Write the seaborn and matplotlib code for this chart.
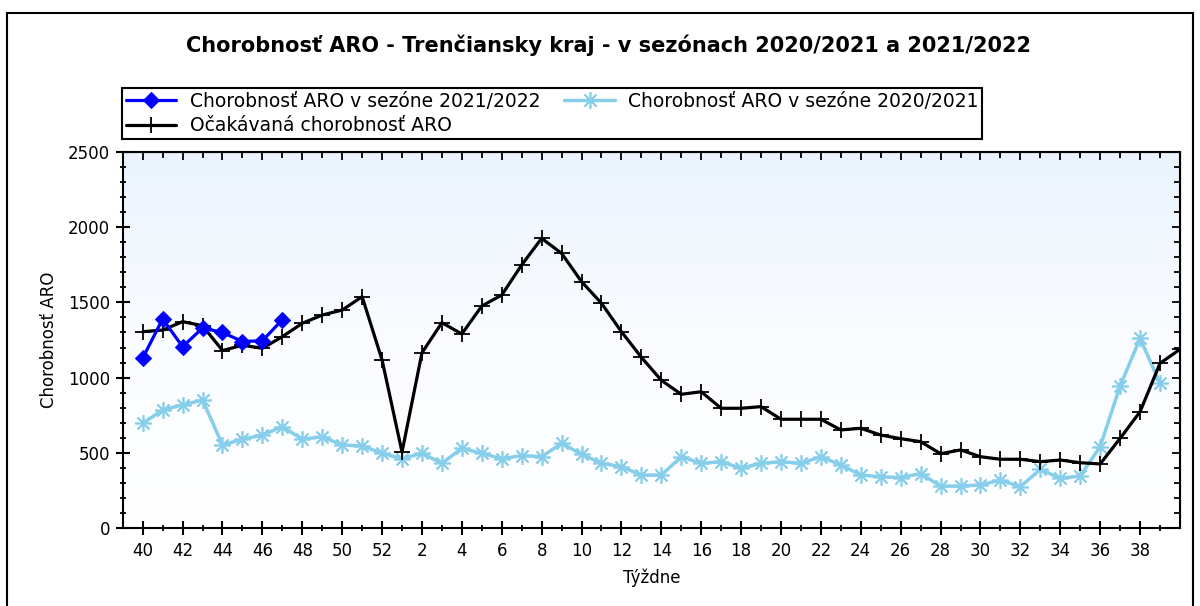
import numpy as np
import matplotlib
matplotlib.use("Agg")
import matplotlib.pyplot as plt
import seaborn as sns
from matplotlib.colors import LinearSegmentedColormap
from matplotlib.ticker import FixedLocator, MultipleLocator
from matplotlib.patches import Rectangle

# ---------------- data ----------------
weeks = list(range(40, 53)) + list(range(1, 40))

season_2122 = [1130, 1390, 1205, 1330, 1300, 1240, 1245, 1385]

season_2021 = [696, 785, 818, 851, 552, 590, 618, 674, 590, 607,
               552, 545, 497, 460, 497, 430, 530, 497, 460, 482,
               474, 563, 490, 430, 408, 352, 352, 474, 430, 441,
               397, 430, 441, 430, 474, 419, 352, 341, 335, 362,
               279, 279, 286, 319, 275, 390, 330, 346, 541, 944,
               1261, 962]

# last value lies on the right edge of the plot (start of the next season)
expected = [1305, 1316, 1372, 1345, 1180, 1215, 1195, 1272, 1361, 1416,
            1449, 1538, 1117, 505, 1165, 1365, 1290, 1476, 1549, 1749,
            1926, 1826, 1638, 1494, 1305, 1135, 982, 889, 906, 796,
            796, 807, 723, 723, 723, 652, 663, 618, 594, 574,
            494, 519, 474, 457, 457, 441, 452, 434, 426, 596,
            773, 1095, 1188]

label_2122 = "Chorobnosť ARO v sezóne 2021/2022"
label_2021 = "Chorobnosť ARO v sezóne 2020/2021"
label_exp = "Očakávaná chorobnosť ARO"
title = "Chorobnosť ARO - Trenčiansky kraj - v sezónach 2020/2021 a 2021/2022"
xlabel = "Týždne"
ylabel = "Chorobnosť ARO"

# ---------------- style ----------------
sns.set_style("white")
plt.rcParams["font.family"] = ["DejaVu Sans"]
plt.rcParams["text.color"] = "black"
plt.rcParams["axes.labelcolor"] = "black"
plt.rcParams["xtick.color"] = "black"
plt.rcParams["ytick.color"] = "black"

fig = plt.figure(figsize=(12, 6.06), dpi=100)
ax = fig.add_axes([0.1023, 0.1287, 0.8810, 0.6205])

# gradient background
cmap = LinearSegmentedColormap.from_list("bg", ["#FFFFFF", "#FAFCFF", "#EBF4FE"])
ax.imshow(np.linspace(0, 1, 256).reshape(-1, 1), cmap=cmap, origin="lower",
          extent=[0, 1, 0, 1], transform=ax.transAxes, aspect="auto", zorder=0)

sns.lineplot(x=np.arange(len(season_2021)), y=season_2021, ax=ax,
             color="#87CEEB", lw=2.5, marker=(8, 2, 0), markersize=12,
             markeredgewidth=1.2, markeredgecolor="#87CEEB",
             label=label_2021, zorder=3)
sns.lineplot(x=np.arange(len(expected)), y=expected, ax=ax,
             color="black", lw=2.3, marker="+", markersize=11,
             markeredgewidth=1.3, markeredgecolor="black",
             label=label_exp, zorder=4, clip_on=True)
sns.lineplot(x=np.arange(len(season_2122)), y=season_2122, ax=ax,
             color="#0000FF", lw=2.3, marker="D", markersize=8,
             markeredgecolor="#0000FF", label=label_2122, zorder=5)

ax.set_xlim(-1, 52)
ax.set_ylim(0, 2500)

ax.set_xticks(range(0, len(weeks), 2))
ax.set_xticklabels([str(w) for w in weeks[::2]])
ax.xaxis.set_minor_locator(FixedLocator(range(1, len(weeks), 2)))
ax.yaxis.set_major_locator(MultipleLocator(500))
ax.yaxis.set_minor_locator(MultipleLocator(100))

ax.tick_params(axis="both", which="both", bottom=True, left=True)
ax.tick_params(axis="both", which="major", direction="inout", length=10,
               width=1.5, labelsize=12, colors="black")
ax.tick_params(axis="both", which="minor", direction="inout", length=5,
               width=1.3, colors="black")
ax.tick_params(axis="x", which="major", pad=5)
ax.tick_params(axis="y", which="major", pad=4)

for s in ax.spines.values():
    s.set_visible(True)
    s.set_color("black")
    s.set_linewidth(1.5)

secx = ax.secondary_xaxis("top")
secx.set_xticks(range(0, len(weeks), 2))
secx.set_xticklabels([])
secx.xaxis.set_minor_locator(FixedLocator(range(1, len(weeks), 2)))
secx.tick_params(which="both", top=True)
secx.tick_params(which="major", direction="in", length=6, width=1.3)
secx.tick_params(which="minor", direction="in", length=4, width=1.3)

secy = ax.secondary_yaxis("right")
secy.yaxis.set_major_locator(MultipleLocator(500))
secy.yaxis.set_minor_locator(MultipleLocator(100))
secy.set_yticklabels([])
secy.tick_params(which="both", right=True)
secy.tick_params(which="major", direction="in", length=6, width=1.3)
secy.tick_params(which="minor", direction="in", length=4, width=1.3)

ax.set_xlabel(xlabel, fontsize=12, labelpad=6, color="black")
ax.set_ylabel(ylabel, fontsize=12, labelpad=7, color="black")

# legend
handles, labels = ax.get_legend_handles_labels()
order = [labels.index(label_2122), labels.index(label_exp), labels.index(label_2021)]
leg = ax.legend([handles[i] for i in order], [labels[i] for i in order],
                ncol=2, loc="upper left", bbox_to_anchor=(122 / 1200, 1 - 88 / 606),
                bbox_transform=fig.transFigure, borderaxespad=0, fontsize=13.5,
                frameon=True, fancybox=False, shadow=False, edgecolor="black",
                handlelength=2.7, handletextpad=0.7, columnspacing=1.3,
                labelspacing=0.3, borderpad=0.2, framealpha=1)
leg.get_frame().set_linewidth(1.5)
for t in leg.get_texts():
    t.set_color("black")

fig.text(0.507, 1 - 45 / 606, title, ha="center", va="center",
         fontsize=15, fontweight="bold", color="black")

fig.patches.append(Rectangle((7 / 1200, -0.05), 1186 / 1200, 1 - 13 / 606 + 0.05,
                             transform=fig.transFigure, fill=False,
                             edgecolor="black", linewidth=1.5))

fig.savefig("out.png", dpi=100, facecolor="white")
